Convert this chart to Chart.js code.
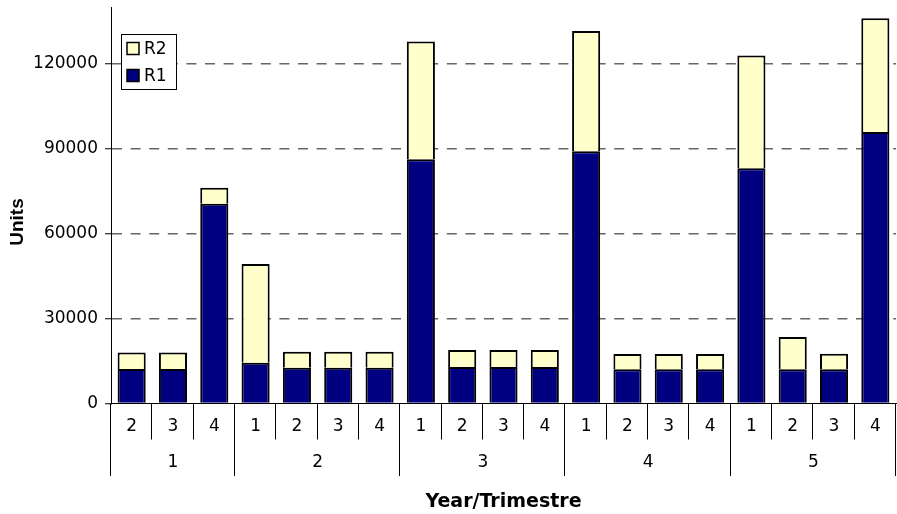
<!DOCTYPE html>
<html>
<head>
<meta charset="utf-8">
<script src="https://cdn.jsdelivr.net/npm/chart.js@4/dist/chart.umd.min.js"></script>
<style>
html,body{margin:0;padding:0;background:#ffffff;}
#wrap{width:897px;height:514px;position:relative;}
canvas{display:block;}
</style>
</head>
<body>
<div id="wrap"><canvas id="c" width="897" height="514"></canvas></div>
<script>
// ---- data ----
const years    = ['1','1','1','2','2','2','2','3','3','3','3','4','4','4','4','5','5','5','5'];
const quarters = ['2','3','4','1','2','3','4','1','2','3','4','1','2','3','4','1','2','3','4'];
const r1Values = [12200,12200,70500,14400,12600,12600,12600,86200,12900,12900,12900,89100,12100,12100,12100,83100,12100,12100,95900];
const r2Values = [5800,5800,5700,34900,5700,5700,5700,41600,6000,6000,6000,42400,5400,5400,5400,39800,11400,5500,40100];
const yTickValues = [0,30000,60000,90000,120000];
const seriesNames = ['R1','R2'];
const yTitle = 'Units';
const xTitle = 'Year/Trimestre';

const R1_COLOR = '#000080';
const R2_COLOR = '#FFFFCC';
const FONT = '"DejaVu Sans", sans-serif';

const extras = {
  id: 'extras',
  afterDraw(chart) {
    const {ctx, chartArea: a, scales: {x}} = chart;
    const n = quarters.length;
    ctx.save();
    // category / year separators below the axis
    ctx.strokeStyle = '#000';
    ctx.lineWidth = 1;
    const bx = b => b === 0 ? a.left : (b === n ? a.right : (x.getPixelForValue(b - 1) + x.getPixelForValue(b)) / 2);
    for (let b = 0; b <= n; b++) {
      const isYear = b === 0 || b === n || years[b] !== years[b - 1];
      const X = Math.round(bx(b)) - 0.5;
      ctx.beginPath();
      ctx.moveTo(X, a.bottom);
      ctx.lineTo(X, isYear ? 476 : 439.5);
      ctx.stroke();
    }
    // year labels
    ctx.fillStyle = '#000';
    ctx.font = '17px ' + FONT;
    ctx.textAlign = 'center';
    ctx.textBaseline = 'middle';
    let start = 0;
    for (let i = 1; i <= n; i++) {
      if (i === n || years[i] !== years[start]) {
        const cx = (x.getPixelForValue(start) + x.getPixelForValue(i - 1)) / 2;
        ctx.fillText(years[start], cx, 463);
        start = i;
      }
    }
    // y title
    ctx.save();
    ctx.translate(18, 222);
    ctx.rotate(-Math.PI / 2);
    ctx.font = 'bold 19px "Liberation Sans", Arial, sans-serif';
    ctx.fillText(yTitle, 0, 0);
    ctx.restore();
    // legend (in plot area)
    ctx.fillStyle = '#fff';
    ctx.fillRect(121.5, 34.5, 55, 55);
    ctx.strokeStyle = '#000';
    ctx.lineWidth = 1;
    ctx.strokeRect(121.5, 34.5, 55, 55);
    const ds = chart.data.datasets;
    const rows = [ds[1], ds[0]];
    const cys = [48.5, 75.5];
    ctx.font = '17px ' + FONT;
    ctx.textAlign = 'left';
    rows.forEach((d, k) => {
      const cy = cys[k];
      ctx.fillStyle = d.backgroundColor;
      ctx.fillRect(127, cy - 6, 12, 12);
      ctx.lineWidth = 1.5;
      ctx.strokeRect(127, cy - 6, 12, 12);
      ctx.fillStyle = '#000';
      ctx.fillText(d.label, 144, cy + 1);
    });
    ctx.restore();
  }
};

new Chart(document.getElementById('c'), {
  type: 'bar',
  data: {
    labels: quarters,
    datasets: [
      { label: seriesNames[0], data: r1Values, backgroundColor: R1_COLOR, borderColor: '#000', borderWidth: 2 },
      { label: seriesNames[1], data: r2Values, backgroundColor: R2_COLOR, borderColor: '#000', borderWidth: 2 }
    ]
  },
  options: {
    responsive: false,
    animation: false,
    layout: { padding: { top: 7, right: 1, bottom: 0, left: 0 } },
    datasets: { bar: { barPercentage: 0.68, categoryPercentage: 1 } },
    plugins: { legend: { display: false }, tooltip: { enabled: false } },
    scales: {
      x: {
        stacked: true,
        grid: { display: false, drawTicks: false },
        border: { display: true, color: '#000', width: 1 },
        ticks: { color: '#000', font: { family: FONT, size: 17 }, padding: 13, autoSkip: false, maxRotation: 0 },
        title: { display: true, text: xTitle, color: '#000', font: { family: FONT, size: 19, weight: 'bold' }, padding: { top: 0, bottom: 1 } },
        afterFit: s => { s.height = 110.5; s.paddingLeft = 0; s.paddingRight = 0; }
      },
      y: {
        stacked: true,
        min: 0,
        max: 140000,
        ticks: { stepSize: 30000, color: '#000', font: { family: FONT, size: 17 }, padding: 7, callback: v => String(v) },
        afterBuildTicks: s => { s.ticks = yTickValues.map(v => ({ value: v })); },
        grid: {
          color: c => (c.tick && c.tick.value === 0) ? 'rgba(0,0,0,0)' : '#666',
          lineWidth: 1.5,
          tickColor: '#000',
          tickWidth: 1,
          tickLength: 6
        },
        border: { display: true, color: '#000', width: 1, dash: [10, 8.6] },
        afterFit: s => { s.width = 111; s.paddingTop = 0; s.paddingBottom = 0; }
      }
    }
  },
  plugins: [extras]
});
</script>
</body>
</html>
